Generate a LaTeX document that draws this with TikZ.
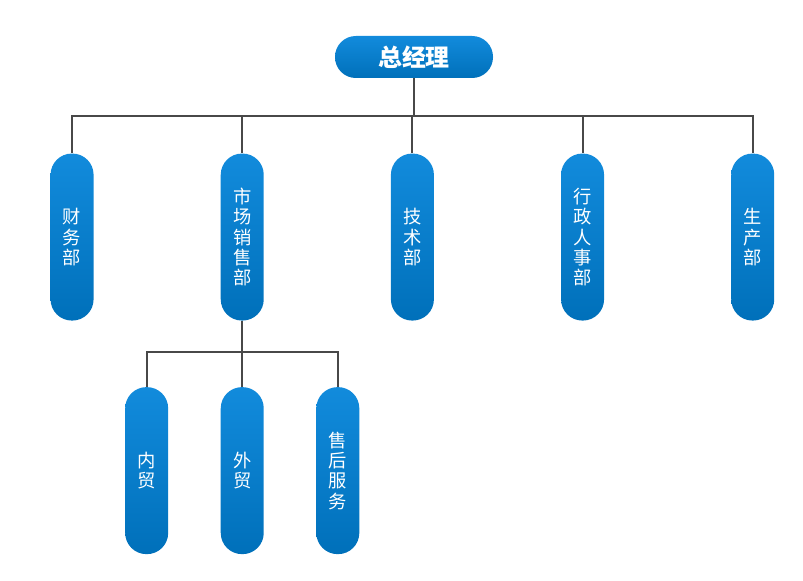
\documentclass[tikz,border=0pt]{standalone}
\usepackage{fontspec}
\newfontfamily\cjk{Noto Sans CJK SC}
\usetikzlibrary{positioning}
\definecolor{deptblue}{RGB}{18, 139, 220}
\definecolor{deptdark}{RGB}{0, 112, 186}
\definecolor{linkgray}{RGB}{72, 72, 72}

\begin{document}
\begin{tikzpicture} [
      font=\cjk,
      node distance=1.875cm and 3.165cm,
      boss/.style={rectangle, rounded corners=0.52cm, top color=deptblue, bottom color=deptdark, draw=none, text=white, minimum width=3.95cm, minimum height=1.05cm, font=\cjk\fontsize{17}{20}\selectfont\bfseries},
      dept/.style={rectangle, rounded corners=0.53cm, top color=deptblue, bottom color=deptdark, draw=none, text=white, minimum width=1.075cm, minimum height=4.175cm, align=center, inner sep=0pt, font=\cjk\fontsize{13}{14.5}\selectfont},
      link/.style={line width=1.4pt, draw=linkgray}
  ]
  \useasboundingbox (0,0) rectangle (20.075,-14.5);
  \node[boss] (ceo) at (10.35,-1.425) {总经理};
  \node[dept, below=of ceo, xshift=-0.04cm] (tech) {技\\术\\部};
  \node[dept, left=of tech] (sales) {市\\场\\销\\售\\部};
  \node[dept, left=of sales] (finance) {财\\务\\部};
  \node[dept, right=of tech] (admin) {行\\政\\人\\事\\部};
  \node[dept, right=of admin] (prod) {生\\产\\部};
  \node[dept, below=1.65cm of sales] (foreign) {外\\贸};
  \node[dept, left=1.3cm of foreign] (domestic) {内\\贸};
  \node[dept, right=1.3cm of foreign] (service) {售\\后\\服\\务};

  \foreach \d in {finance, sales, tech, admin, prod}
    \draw[link] (ceo.south) -- ++(0,-0.95) -| (\d.north);
  \foreach \d in {domestic, foreign, service}
    \draw[link] (sales.south) -- ++(0,-0.775) -| (\d.north);
\end{tikzpicture}
\end{document}
